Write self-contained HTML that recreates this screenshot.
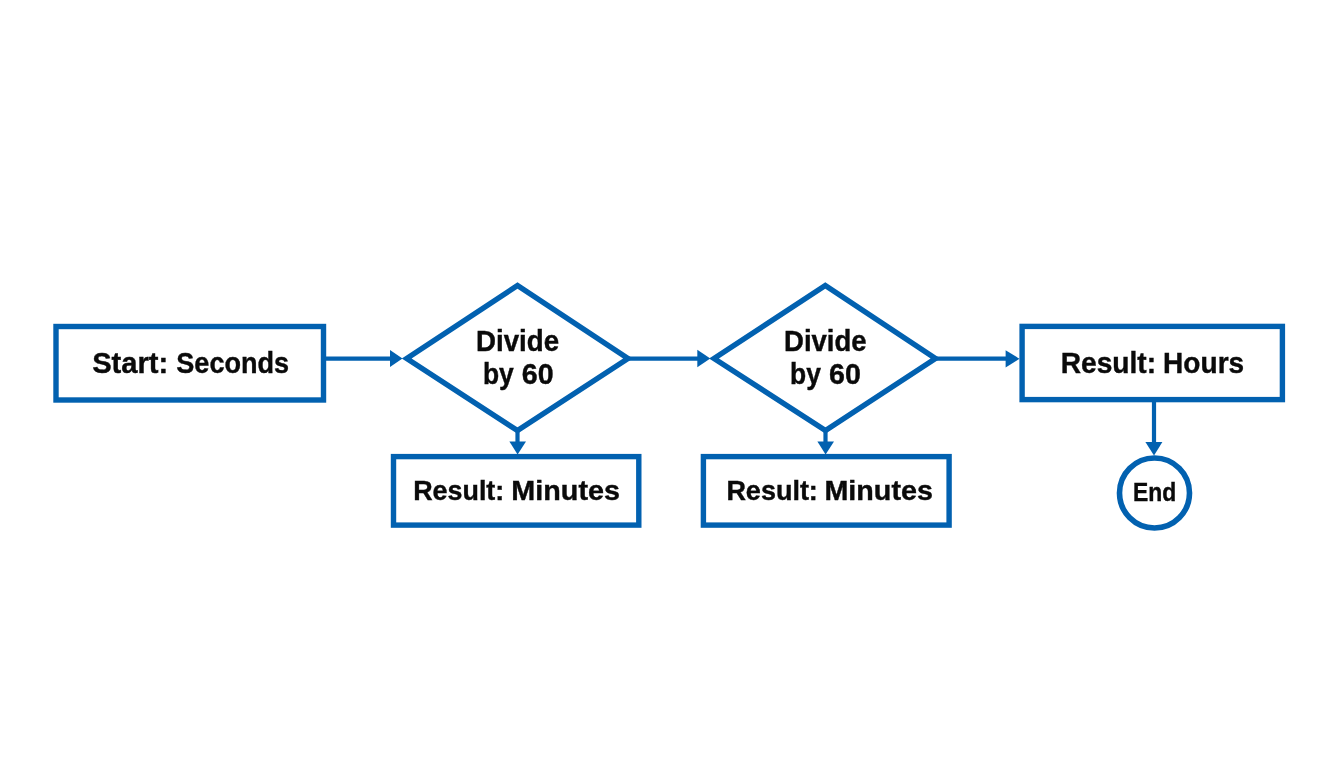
<!DOCTYPE html>
<html>
<head>
<meta charset="utf-8">
<style>
html,body{margin:0;padding:0;background:#ffffff;width:1344px;height:768px;overflow:hidden;}
svg{display:block;will-change:transform;}
text{font-family:"Liberation Sans",sans-serif;font-weight:bold;fill:#0a0a0a;stroke:#0a0a0a;stroke-width:0.4px;}
</style>
</head>
<body>
<svg width="1344" height="768" viewBox="0 0 1344 768">
<g fill="none" stroke="#0261b0" stroke-width="5.4" stroke-miterlimit="10">
  <rect x="56" y="326.5" width="267.5" height="73.5"/>
  <polygon points="406.7,358.5 517.5,285.5 628,358.5 517.5,430.6"/>
  <rect x="393.5" y="456.6" width="245.3" height="68.5"/>
  <polygon points="714,358.5 825.3,285.5 935.5,358.5 825.5,430.6"/>
  <rect x="703.4" y="456.6" width="245.7" height="68.5"/>
  <rect x="1022.1" y="326.4" width="260.3" height="73.2"/>
  <circle cx="1154.5" cy="493" r="35.0" stroke-width="5.6"/>
</g>
<g stroke="#0261b0" stroke-width="4.2" fill="none">
  <line x1="326" y1="358.6" x2="391" y2="358.6"/>
  <line x1="628" y1="358.6" x2="698" y2="358.6"/>
  <line x1="935.5" y1="358.6" x2="1006" y2="358.6"/>
  <line x1="517.5" y1="430" x2="517.5" y2="442"/>
  <line x1="825.5" y1="430" x2="825.5" y2="442"/>
  <line x1="1154" y1="402" x2="1154" y2="443"/>
</g>
<g fill="#0261b0">
  <polygon points="390,350 402.5,358.5 390,367"/>
  <polygon points="697.3,349.8 710.3,358.5 697.3,367.3"/>
  <polygon points="1005.6,350.2 1019.5,358.8 1005.6,367.5"/>
  <polygon points="509.4,441.4 517.6,454.5 526,441.4"/>
  <polygon points="817.4,441.4 825.6,454.5 834,441.4"/>
  <polygon points="1145.4,442 1154,455.5 1162.4,442"/>
</g>
<g id="labels">
  <text x="92.16" y="372.6" font-size="30.2" textLength="76.14" lengthAdjust="spacingAndGlyphs">Start:</text>
  <text x="176.32" y="372.6" font-size="30.2" textLength="112.79" lengthAdjust="spacingAndGlyphs">Seconds</text>
  <text x="476.05" y="351.45" font-size="28.85" textLength="83.00" lengthAdjust="spacingAndGlyphs">Divide</text>
  <text x="482.96" y="383.7" font-size="28.85" textLength="30.89" lengthAdjust="spacingAndGlyphs">by</text>
  <text x="521.75" y="383.7" font-size="28.85" textLength="31.82" lengthAdjust="spacingAndGlyphs">60</text>
  <text x="784.06" y="351.45" font-size="28.85" textLength="82.48" lengthAdjust="spacingAndGlyphs">Divide</text>
  <text x="790.06" y="383.7" font-size="28.85" textLength="30.89" lengthAdjust="spacingAndGlyphs">by</text>
  <text x="829.05" y="383.7" font-size="28.85" textLength="31.82" lengthAdjust="spacingAndGlyphs">60</text>
  <text x="413.20" y="500.3" font-size="28.2" textLength="91.08" lengthAdjust="spacingAndGlyphs">Result:</text>
  <text x="511.38" y="500.3" font-size="28.2" textLength="108.60" lengthAdjust="spacingAndGlyphs">Minutes</text>
  <text x="726.39" y="500.3" font-size="28.2" textLength="91.50" lengthAdjust="spacingAndGlyphs">Result:</text>
  <text x="824.48" y="500.3" font-size="28.2" textLength="108.40" lengthAdjust="spacingAndGlyphs">Minutes</text>
  <text x="1060.72" y="372.7" font-size="30.2" textLength="95.39" lengthAdjust="spacingAndGlyphs">Result:</text>
  <text x="1163.12" y="372.7" font-size="30.2" textLength="81.03" lengthAdjust="spacingAndGlyphs">Hours</text>
  <text x="1133.07" y="500.5" font-size="25.1" textLength="43.24" lengthAdjust="spacingAndGlyphs">End</text>
</g>
</svg>
</body>
</html>
